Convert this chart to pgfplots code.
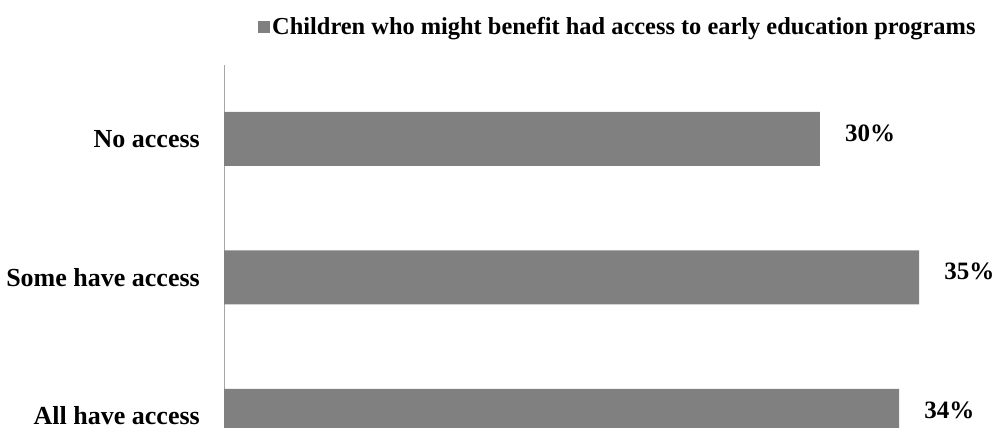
\documentclass[border=0pt]{standalone}
\usepackage{pgfplots}
\pgfplotsset{compat=1.18}
\usepackage{fontspec}
\setmainfont{Liberation Serif}
\definecolor{barcol}{HTML}{808080}
\definecolor{axcol}{HTML}{A6A6A6}
\begin{document}
\begin{tikzpicture}
\useasboundingbox (0,0) rectangle (1003pt,428pt);
\begin{axis}[
  at={(224pt,12pt)}, anchor=origin,
  x=19.86pt, y=138.5pt,
  xmin=0, xmax=38.4,
  ymin=-0.0866, ymax=2.534,
  xbar, bar width=54pt,
  axis x line=none,
  axis y line*=left,
  axis line style={axcol, line width=0.8pt},
  ytick={0,1,2},
  yticklabels={All have access, Some have access, No access},
  major tick length=0pt,
  /pgf/number format/assume math mode=true,
  yticklabel style={font=\fontsize{26}{30}\selectfont\bfseries, inner sep=0pt, xshift=-24pt},
  nodes near coords={\pgfmathprintnumber{\pgfplotspointmeta}\%},
  nodes near coords align={horizontal},
  every node near coord/.append style={font=\fontsize{25}{29}\selectfont\bfseries, inner sep=0pt, xshift=25pt, yshift=6pt, black},
  legend style={draw=none, fill=none, at={(34pt,401pt)}, anchor=west, font=\fontsize{24.4}{28}\selectfont\bfseries, inner sep=0pt, legend cell align=left},
  legend image code/.code={\fill[barcol] (0pt,-6pt) rectangle (12pt,6pt);},
  clip=true,
]
\addplot[fill=barcol, draw=none] coordinates {(34,0) (35,1) (30,2)};
\addlegendentry{Children who might benefit had access to early education programs}
\end{axis}
\end{tikzpicture}
\end{document}
